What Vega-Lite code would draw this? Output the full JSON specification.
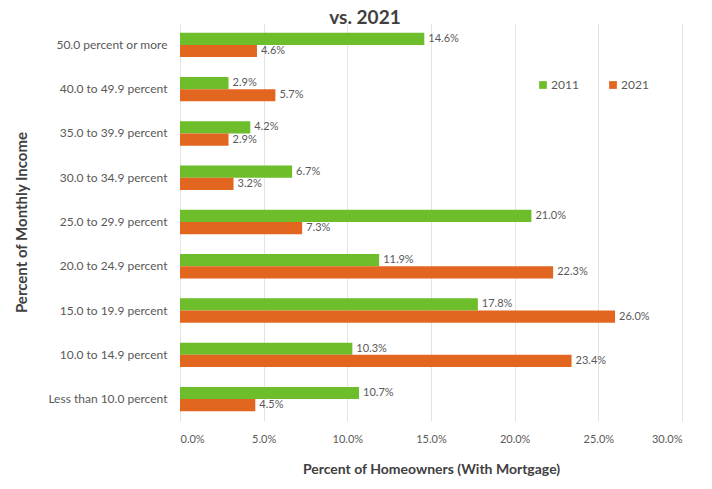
{
  "$schema": "https://vega.github.io/schema/vega-lite/v6.json",
  "width": 502,
  "height": 398,
  "autosize": {"type": "none"},
  "padding": {"left": 180, "top": 23, "right": 30, "bottom": 68},
  "background": "white",
  "title": {
    "text": "vs. 2021",
    "anchor": "middle",
    "dx": -66,
    "offset": -5,
    "fontSize": 19,
    "font": "Lato",
    "fontWeight": "bold",
    "color": "#404040"
  },
  "config": {
    "font": "Lato",
    "view": {"stroke": null}
  },
  "data": {
    "values": [
      {"category": "50.0 percent or more", "year": "2011", "value": 0.146},
      {"category": "50.0 percent or more", "year": "2021", "value": 0.046},
      {"category": "40.0 to 49.9 percent", "year": "2011", "value": 0.029},
      {"category": "40.0 to 49.9 percent", "year": "2021", "value": 0.057},
      {"category": "35.0 to 39.9 percent", "year": "2011", "value": 0.042},
      {"category": "35.0 to 39.9 percent", "year": "2021", "value": 0.029},
      {"category": "30.0 to 34.9 percent", "year": "2011", "value": 0.067},
      {"category": "30.0 to 34.9 percent", "year": "2021", "value": 0.032},
      {"category": "25.0 to 29.9 percent", "year": "2011", "value": 0.210},
      {"category": "25.0 to 29.9 percent", "year": "2021", "value": 0.073},
      {"category": "20.0 to 24.9 percent", "year": "2011", "value": 0.119},
      {"category": "20.0 to 24.9 percent", "year": "2021", "value": 0.223},
      {"category": "15.0 to 19.9 percent", "year": "2011", "value": 0.178},
      {"category": "15.0 to 19.9 percent", "year": "2021", "value": 0.260},
      {"category": "10.0 to 14.9 percent", "year": "2011", "value": 0.103},
      {"category": "10.0 to 14.9 percent", "year": "2021", "value": 0.234},
      {"category": "Less than 10.0 percent", "year": "2011", "value": 0.107},
      {"category": "Less than 10.0 percent", "year": "2021", "value": 0.045}
    ]
  },
  "encoding": {
    "y": {
      "field": "category",
      "type": "nominal",
      "sort": null,
      "scale": {"paddingInner": 0.45, "paddingOuter": 0.22},
      "axis": {
        "title": "Percent of Monthly Income",
        "titleFontSize": 15,
        "titleFontWeight": "bold",
        "titleColor": "#404040",
        "titlePadding": 18,
        "labelFontSize": 12,
        "labelColor": "#595959",
        "labelPadding": 13,
        "ticks": false,
        "domain": false
      }
    },
    "yOffset": {"field": "year", "type": "nominal", "scale": {"paddingInner": 0}},
    "x": {
      "field": "value",
      "type": "quantitative",
      "scale": {"domain": [0, 0.3]},
      "axis": {
        "title": "Percent of Homeowners (With Mortgage)",
        "format": ".1%",
        "values": [0, 0.05, 0.1, 0.15, 0.2, 0.25, 0.3],
        "labelOverlap": false,
        "titleFontSize": 14,
        "titleFontWeight": "bold",
        "titleColor": "#404040",
        "titlePadding": 18,
        "labelFontSize": 11,
        "labelColor": "#595959",
        "labelPadding": 12,
        "ticks": false,
        "domain": false,
        "grid": true,
        "gridColor": "#e3e3e3"
      }
    }
  },
  "layer": [
    {
      "mark": {"type": "bar"},
      "encoding": {
        "color": {
          "field": "year",
          "type": "nominal",
          "scale": {"domain": ["2011", "2021"], "range": ["#6dbe2a", "#e2661f"]},
          "legend": {
            "title": null,
            "orient": "none",
            "legendX": 357,
            "legendY": 56,
            "direction": "horizontal",
            "columns": 2,
            "columnPadding": 28,
            "symbolType": "square",
            "symbolSize": 60,
            "symbolStrokeWidth": 0,
            "labelFontSize": 12,
            "labelColor": "#595959",
            "labelOffset": 2
          }
        }
      }
    },
    {
      "mark": {"type": "text", "align": "left", "dx": 4, "fontSize": 11, "color": "#595959"},
      "encoding": {
        "text": {"field": "value", "type": "quantitative", "format": ".1%"}
      }
    }
  ]
}
